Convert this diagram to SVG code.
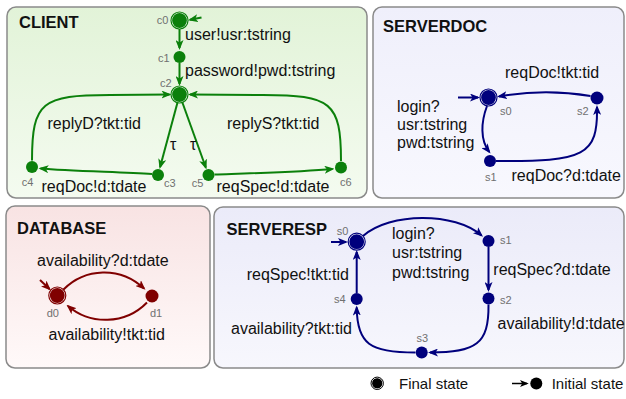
<svg xmlns="http://www.w3.org/2000/svg" width="626" height="399" viewBox="0 0 626 399">
<style>
.lbl{font-family:"Liberation Sans",Arial,sans-serif;font-size:16px;fill:#111}
.ttl{font-family:"Liberation Sans",Arial,sans-serif;font-size:16.5px;font-weight:bold;fill:#111}
.nl{font-family:"Liberation Sans",Arial,sans-serif;font-size:11px;fill:#707070}
.lg{font-family:"Liberation Sans",Arial,sans-serif;font-size:15px;fill:#111}
.panel{stroke:#8a8a8a;stroke-width:1.5}
.eg{fill:none;stroke:#0b800b;stroke-width:2;marker-end:url(#mg)}
.eb{fill:none;stroke:#00007d;stroke-width:2;marker-end:url(#mb)}
.er{fill:none;stroke:#800000;stroke-width:2;marker-end:url(#mr)}
.ek{fill:none;stroke:#000;stroke-width:1.5;marker-end:url(#mk)}
.ng{fill:#0b800b}.nb{fill:#00007d}.nr{fill:#800000}
.fg{fill:#0b800b;stroke:#fff;stroke-width:1.2}
.fb{fill:#00007d;stroke:#fff;stroke-width:1.2}
.fr{fill:#800000;stroke:#fff;stroke-width:1.2}
</style>
<defs>
<linearGradient id="gC" x1="0" y1="0" x2="0" y2="1"><stop offset="0" stop-color="#e2f3d8"/><stop offset="1" stop-color="#f4fbf0"/></linearGradient>
<linearGradient id="gS" x1="0" y1="0" x2="0" y2="1"><stop offset="0" stop-color="#efeffb"/><stop offset="1" stop-color="#f8f8fe"/></linearGradient>
<linearGradient id="gD" x1="0" y1="0" x2="0" y2="1"><stop offset="0" stop-color="#f8e3e3"/><stop offset="1" stop-color="#fff9f9"/></linearGradient>
<linearGradient id="gR" x1="0" y1="0" x2="0" y2="1"><stop offset="0" stop-color="#ebebf9"/><stop offset="1" stop-color="#f7f7fd"/></linearGradient>
<marker id="mg" viewBox="0 0 10 8" refX="8" refY="4" markerWidth="10" markerHeight="8" orient="auto" markerUnits="userSpaceOnUse"><path d="M0,0 L10,4 L0,8 L2.5,4 z" fill="#0b800b"/></marker>
<marker id="mb" viewBox="0 0 10 8" refX="8" refY="4" markerWidth="10" markerHeight="8" orient="auto" markerUnits="userSpaceOnUse"><path d="M0,0 L10,4 L0,8 L2.5,4 z" fill="#00007d"/></marker>
<marker id="mr" viewBox="0 0 10 8" refX="8" refY="4" markerWidth="10" markerHeight="8" orient="auto" markerUnits="userSpaceOnUse"><path d="M0,0 L10,4 L0,8 L2.5,4 z" fill="#800000"/></marker>
<marker id="mk" viewBox="0 0 10 8" refX="8" refY="4" markerWidth="9" markerHeight="7" orient="auto" markerUnits="userSpaceOnUse"><path d="M0,0 L10,4 L0,8 L2.5,4 z" fill="#000"/></marker>
</defs>
<rect width="626" height="399" fill="#fff"/>

<g id="panels">
<rect class="panel" x="7" y="7" width="360" height="191" rx="9" fill="url(#gC)"/>
<rect class="panel" x="373" y="7" width="251" height="191" rx="9" fill="url(#gS)"/>
<rect class="panel" x="6" y="206" width="204" height="162" rx="9" fill="url(#gD)"/>
<rect class="panel" x="214" y="207" width="410" height="161" rx="9" fill="url(#gR)"/>
<text class="ttl" x="19" y="27.5">CLIENT</text>
<text class="ttl" x="383" y="31.5">SERVERDOC</text>
<text class="ttl" x="17" y="234">DATABASE</text>
<text class="ttl" x="226.5" y="235">SERVERESP</text>
</g>

<g id="connectors">
<!-- CLIENT -->
<path class="eg" d="M201.5,17.5 L190,19.8"/>
<path class="eg" d="M179.5,29 L179.5,48"/>
<path class="eg" d="M179.5,63 L179.5,84"/>
<path class="eg" d="M177.5,102.5 L160.1,167"/>
<path class="eg" d="M182.2,102 L205.8,167.5"/>
<path class="eg" d="M152,174 C120,172 70,171 40.5,168.5"/>
<path class="eg" d="M214.5,174.5 C260,173 300,172 332.5,169"/>
<path class="eg" d="M32,160.5 C32,102 42,95 110,95 L169.5,94.5"/>
<path class="eg" d="M341,161 C341,102 331,95 263,95 L190,94.5"/>
<!-- SERVERDOC -->
<path class="eb" d="M458,97.5 L478,97.5"/>
<path class="eb" d="M487,106 C481,122 480,140 489.3,152"/>
<path class="eb" d="M496,161 C585,162 598,155 597,107"/>
<path class="eb" d="M590.5,96 C560,91 530,91 499,96.5"/>
<!-- DATABASE -->
<path class="er" d="M40,280 L49.5,289"/>
<path class="er" d="M63.5,289.5 C85,268 120,266 144,288.5"/>
<path class="er" d="M147,302.5 C125,325 90,325 68,306"/>
<!-- SERVERESP -->
<path class="eb" d="M331,242 L346,242"/>
<path class="eb" d="M363,236 C390,212 455,212 481.5,235.5"/>
<path class="eb" d="M488.5,247 L488.5,290"/>
<path class="eb" d="M488.5,304.5 C489,344 476,352.5 430,352.5"/>
<path class="eb" d="M415.5,352.5 C370,352.5 357,344 356.7,307.5"/>
<path class="eb" d="M356.7,293 L356.7,252"/>
<!-- legend -->
<path class="ek" d="M512,383.5 L527,383.5"/>
</g>

<g id="edge-labels">
<text class="lbl" x="185" y="40">user!usr:tstring</text>
<text class="lbl" x="185" y="75.5">password!pwd:tstring</text>
<text class="lbl" x="170" y="150">τ</text>
<text class="lbl" x="190" y="150">τ</text>
<text class="lbl" x="47.5" y="128.5">replyD?tkt:tid</text>
<text class="lbl" x="227" y="128.5">replyS?tkt:tid</text>
<text class="lbl" x="41.5" y="191.5">reqDoc!d:tdate</text>
<text class="lbl" x="216.5" y="191.5">reqSpec!d:tdate</text>

<text class="lbl" x="505" y="78.3">reqDoc!tkt:tid</text>
<text class="lbl" x="397" y="111.8">login?</text>
<text class="lbl" x="397" y="130">usr:tstring</text>
<text class="lbl" x="397" y="148.3">pwd:tstring</text>
<text class="lbl" x="511.5" y="180.5">reqDoc?d:tdate</text>

<text class="lbl" x="37" y="266.3">availability?d:tdate</text>
<text class="lbl" x="48.5" y="339.5">availability!tkt:tid</text>

<text class="lbl" x="392" y="238.5">login?</text>
<text class="lbl" x="392" y="258">usr:tstring</text>
<text class="lbl" x="392" y="277.5">pwd:tstring</text>
<text class="lbl" x="493.3" y="275">reqSpec?d:tdate</text>
<text class="lbl" x="497.5" y="328.5">availability!d:tdate</text>
<text class="lbl" x="246.7" y="280">reqSpec!tkt:tid</text>
<text class="lbl" x="231" y="333.5">availability?tkt:tid</text>
</g>

<g id="client-c0"><circle cx="179.5" cy="20.5" r="8" class="fg"/><circle cx="179.5" cy="20.5" r="8.5" fill="none" stroke="#0b800b" stroke-width="1.2"/><text class="nl" x="156.7" y="24">c0</text></g>
<g id="client-c1"><circle cx="179.5" cy="57" r="6" class="ng"/><text class="nl" x="158" y="61.5">c1</text></g>
<g id="client-c2"><circle cx="179.5" cy="94.5" r="8" class="fg"/><circle cx="179.5" cy="94.5" r="8.5" fill="none" stroke="#0b800b" stroke-width="1.2"/><text class="nl" x="160" y="86.5">c2</text></g>
<g id="client-c3"><circle cx="158" cy="175" r="6" class="ng"/><text class="nl" x="164" y="186.5">c3</text></g>
<g id="client-c4"><circle cx="32" cy="167" r="6" class="ng"/><text class="nl" x="21.7" y="185.5">c4</text></g>
<g id="client-c5"><circle cx="208.5" cy="175" r="6" class="ng"/><text class="nl" x="191.7" y="186.5">c5</text></g>
<g id="client-c6"><circle cx="341" cy="167.5" r="6" class="ng"/><text class="nl" x="340" y="185.5">c6</text></g>

<g id="serverdoc-s0"><circle cx="488.5" cy="97.5" r="8" class="fb"/><circle cx="488.5" cy="97.5" r="8.5" fill="none" stroke="#00007d" stroke-width="1.2"/><text class="nl" x="500" y="115">s0</text></g>
<g id="serverdoc-s1"><circle cx="490" cy="161" r="6" class="nb"/><text class="nl" x="485" y="181">s1</text></g>
<g id="serverdoc-s2"><circle cx="597" cy="98" r="6.5" class="nb"/><text class="nl" x="577" y="115">s2</text></g>

<g id="database-d0"><circle cx="57.3" cy="295.5" r="8" class="fr"/><circle cx="57.3" cy="295.5" r="8.5" fill="none" stroke="#800000" stroke-width="1.2"/><text class="nl" x="46.7" y="317">d0</text></g>
<g id="database-d1"><circle cx="152" cy="296" r="6.5" class="nr"/><text class="nl" x="150" y="317">d1</text></g>

<g id="serveresp-s0"><circle cx="356.7" cy="241.7" r="8" class="fb"/><circle cx="356.7" cy="241.7" r="8.5" fill="none" stroke="#00007d" stroke-width="1.2"/><text class="nl" x="336.7" y="235">s0</text></g>
<g id="serveresp-s1"><circle cx="488.5" cy="241" r="6" class="nb"/><text class="nl" x="500" y="244">s1</text></g>
<g id="serveresp-s2"><circle cx="488.5" cy="298.5" r="6" class="nb"/><text class="nl" x="500" y="304">s2</text></g>
<g id="serveresp-s3"><circle cx="421.7" cy="352.5" r="6" class="nb"/><text class="nl" x="416.5" y="342">s3</text></g>
<g id="serveresp-s4"><circle cx="356.7" cy="299" r="6" class="nb"/><text class="nl" x="334" y="303">s4</text></g>

<g id="legend">
<circle cx="377.2" cy="383.3" r="5.6" fill="#000" stroke="#fff" stroke-width="1"/>
<circle cx="377.2" cy="383.3" r="6.2" fill="none" stroke="#000" stroke-width="1"/>
<text class="lg" x="399" y="389">Final state</text>
<circle cx="536.3" cy="383.5" r="6" fill="#000"/>
<text class="lg" x="551.7" y="389">Initial state</text>
</g>
</svg>
